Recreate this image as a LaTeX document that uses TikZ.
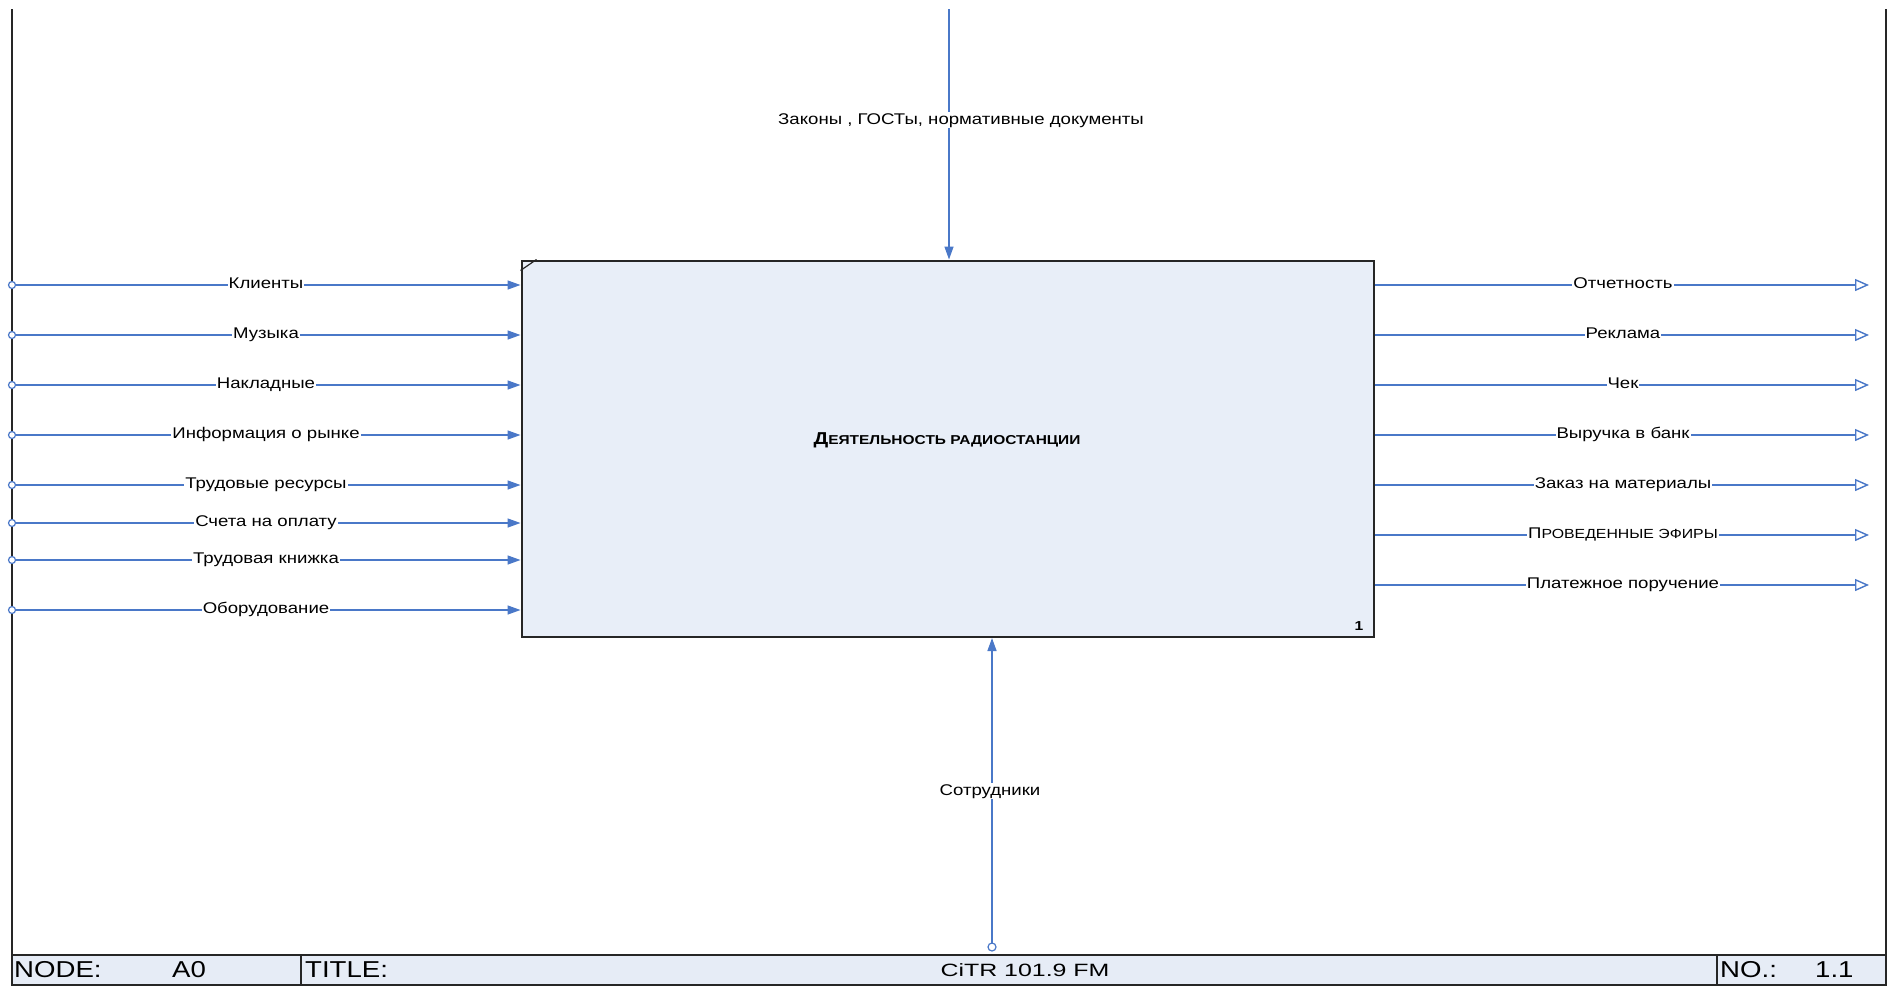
\documentclass[tikz,border=0pt]{standalone}
\usepackage{fontspec}
\setmainfont{Liberation Sans}[FakeStretch=1.2]
\newfontfamily\namefont{Liberation Sans}[FakeStretch=1.4]
\usetikzlibrary{arrows.meta}

\definecolor{arrowblue}{HTML}{4A78C8}
\definecolor{boxfill}{HTML}{E8EEF8}
\definecolor{framefill}{HTML}{E6ECF6}

% small-capital look used by some captions
\newcommand\capsmall[1]{{\fontsize{13.2}{15}\selectfont\MakeUppercase{#1}}}
\newcommand\capsmallb[1]{{\fontsize{12.9}{15}\selectfont\MakeUppercase{#1}}}

\tikzset{
  flow/.style={draw=arrowblue, line width=1.4pt, -{Triangle[length=13pt,width=9pt]}},
  oflow/.style={draw=arrowblue, line width=1.4pt, -{Triangle[open,length=14pt,width=12pt,line width=1.4pt]}},
  endring/.style={draw=arrowblue, line width=1.2pt, fill=white},
  lbl/.style={fill=white, inner sep=1pt, anchor=base, text height=11pt, text depth=3pt,
    font=\fontsize{15.5}{18}\selectfont},
  titletext/.style={anchor=base west, inner sep=0pt, font=\fontsize{23}{26}\selectfont},
  activity/.style={draw=black!85, line width=2pt, fill=boxfill, minimum width=852pt,
    minimum height=376.5pt, inner sep=0pt}
}

\begin{document}
\begin{tikzpicture}[x=1pt,y=-1pt]
\useasboundingbox (0,0) rectangle (1888,986);

% drawing frame
\draw[line width=2pt, black!85] (12,9) -- (12,955);
\draw[line width=2pt, black!85] (1886,9) -- (1886,955);

% title block
\draw[line width=2pt, black!85, fill=framefill] (12,955) rectangle (1886,985);
\draw[line width=2pt, black!85] (301,955) -- (301,985);
\draw[line width=2pt, black!85] (1717,955) -- (1717,985);
\node[titletext] (tnode) at (14,977) {NODE:};
\node[titletext] (tnodeval) at (172,977) {A0};
\node[titletext] (ttitle) at (305,977) {TITLE:};
\node[anchor=base, inner sep=0pt, font=\namefont\fontsize{17.8}{20}\selectfont] (tname) at (1025,976) {CiTR 101.9 FM};
\node[titletext] (tno) at (1720,977) {NO.:};
\node[titletext] (tnoval) at (1815,977) {1.1};

% activity box
\node[activity] (box) at (947.5,448.75) {};
\draw[line width=1.2pt, black!85] ([yshift=-11pt]box.north west) -- ([xshift=16pt]box.north west);
\node[font=\fontsize{17.2}{18}\selectfont\bfseries, inner sep=0pt] (boxname) at (947,440)
  {Д\capsmallb{еятельность радиостанции}};
\node[font=\fontsize{13}{14}\selectfont\bfseries, inner sep=0pt] (boxno) at (1359,626) {1};

% control
\coordinate (ctl) at (949,9);
\draw[flow] (ctl) -- (ctl |- box.north);
\node[lbl, anchor=center] (ctlL) at (961,120) {Законы , ГОСТы, нормативные документы};

% mechanism
\coordinate (mech) at (992,947);
\draw[flow] (mech) -- (mech |- box.south);
\draw[endring] (mech) circle (4);
\node[lbl, anchor=center] (mechL) at (990,791) {Сотрудники};

% inputs
\foreach \y/\t [count=\i] in {285/Клиенты, 335/Музыка, 385/Накладные, 435/Информация о рынке,
    485/Трудовые ресурсы, 523/Счета на оплату, 560/Трудовая книжка, 610/Оборудование}{
  \coordinate (in\i) at (12,\y);
  \draw[flow] (in\i) -- (box.west |- in\i);
  \draw[endring] (in\i) circle (3.5);
  \node[lbl] (inL\i) at (266,\y+3) {\t};
}

% outputs
\foreach \y/\t [count=\i] in {285/Отчетность, 335/Реклама, 385/Чек, 435/Выручка в банк,
    485/Заказ на материалы, 535/П\capsmall{роведенные эфиры}, 585/Платежное поручение}{
  \coordinate (out\i) at (1869,\y);
  \draw[oflow] (box.east |- out\i) -- (out\i);
  \node[lbl] (outL\i) at (1623,\y+3) {\t};
}
\end{tikzpicture}
\end{document}
